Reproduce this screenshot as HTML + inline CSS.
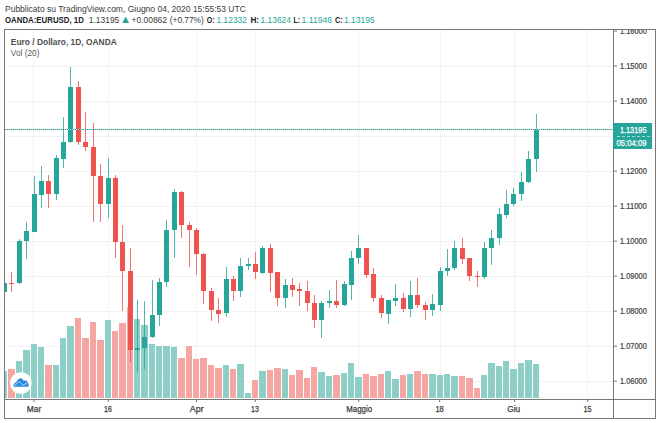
<!DOCTYPE html>
<html><head><meta charset="utf-8">
<style>
html,body{margin:0;padding:0;background:#fff;}
body{width:660px;height:423px;position:relative;overflow:hidden;font-family:"Liberation Sans",sans-serif;}
svg{position:absolute;left:0;top:0;font-family:"Liberation Sans",sans-serif;}
</style></head><body>
<svg width="660" height="423" viewBox="0 0 660 423">
<defs><clipPath id="axc"><rect x="614" y="30" width="41" height="369"/></clipPath><clipPath id="cp"><rect x="5" y="30" width="608" height="369"/></clipPath></defs>
<g clip-path="url(#cp)">
<rect x="5" y="66" width="608" height="1" fill="#f2f2f2"/>
<rect x="5" y="101" width="608" height="1" fill="#f2f2f2"/>
<rect x="5" y="136" width="608" height="1" fill="#f2f2f2"/>
<rect x="5" y="171" width="608" height="1" fill="#f2f2f2"/>
<rect x="5" y="206" width="608" height="1" fill="#f2f2f2"/>
<rect x="5" y="241" width="608" height="1" fill="#f2f2f2"/>
<rect x="5" y="276" width="608" height="1" fill="#f2f2f2"/>
<rect x="5" y="311" width="608" height="1" fill="#f2f2f2"/>
<rect x="5" y="346" width="608" height="1" fill="#f2f2f2"/>
<rect x="5" y="381" width="608" height="1" fill="#f2f2f2"/>
<rect x="33" y="30" width="1" height="369" fill="#f2f2f2"/>
<rect x="108" y="30" width="1" height="369" fill="#f2f2f2"/>
<rect x="196" y="30" width="1" height="369" fill="#f2f2f2"/>
<rect x="255" y="30" width="1" height="369" fill="#f2f2f2"/>
<rect x="358" y="30" width="1" height="369" fill="#f2f2f2"/>
<rect x="440" y="30" width="1" height="369" fill="#f2f2f2"/>
<rect x="514" y="30" width="1" height="369" fill="#f2f2f2"/>
<rect x="587" y="30" width="1" height="369" fill="#f2f2f2"/>
<rect x="1" y="371" width="6" height="27" fill="#8dcfc6"/>
<rect x="8" y="369" width="7" height="29" fill="#f6a6a2"/>
<rect x="16" y="361" width="6" height="37" fill="#8dcfc6"/>
<rect x="23" y="350" width="7" height="48" fill="#8dcfc6"/>
<rect x="31" y="344" width="6" height="54" fill="#8dcfc6"/>
<rect x="38" y="347" width="6" height="51" fill="#8dcfc6"/>
<rect x="45" y="365" width="7" height="33" fill="#f6a6a2"/>
<rect x="53" y="365" width="6" height="33" fill="#8dcfc6"/>
<rect x="60" y="338" width="6" height="60" fill="#8dcfc6"/>
<rect x="67" y="326" width="7" height="72" fill="#8dcfc6"/>
<rect x="75" y="318" width="6" height="80" fill="#f6a6a2"/>
<rect x="82" y="338" width="7" height="60" fill="#f6a6a2"/>
<rect x="90" y="322" width="6" height="76" fill="#f6a6a2"/>
<rect x="97" y="340" width="7" height="58" fill="#f6a6a2"/>
<rect x="105" y="320" width="6" height="78" fill="#8dcfc6"/>
<rect x="112" y="331" width="6" height="67" fill="#f6a6a2"/>
<rect x="119" y="323" width="7" height="75" fill="#f6a6a2"/>
<rect x="127" y="307" width="6" height="91" fill="#f6a6a2"/>
<rect x="134" y="319" width="6" height="79" fill="#8dcfc6"/>
<rect x="141" y="325" width="7" height="73" fill="#8dcfc6"/>
<rect x="149" y="344" width="6" height="54" fill="#8dcfc6"/>
<rect x="156" y="346" width="6" height="52" fill="#8dcfc6"/>
<rect x="163" y="346" width="7" height="52" fill="#8dcfc6"/>
<rect x="171" y="347" width="6" height="51" fill="#8dcfc6"/>
<rect x="178" y="358" width="7" height="40" fill="#f6a6a2"/>
<rect x="186" y="346" width="6" height="52" fill="#f6a6a2"/>
<rect x="193" y="359" width="6" height="39" fill="#f6a6a2"/>
<rect x="200" y="358" width="7" height="40" fill="#f6a6a2"/>
<rect x="208" y="365" width="6" height="33" fill="#f6a6a2"/>
<rect x="215" y="368" width="7" height="30" fill="#f6a6a2"/>
<rect x="223" y="365" width="6" height="33" fill="#8dcfc6"/>
<rect x="230" y="369" width="6" height="29" fill="#f6a6a2"/>
<rect x="237" y="364" width="7" height="34" fill="#8dcfc6"/>
<rect x="245" y="393" width="6" height="5" fill="#8dcfc6"/>
<rect x="252" y="380" width="6" height="18" fill="#f6a6a2"/>
<rect x="259" y="371" width="7" height="27" fill="#8dcfc6"/>
<rect x="267" y="370" width="6" height="28" fill="#f6a6a2"/>
<rect x="274" y="368" width="7" height="30" fill="#f6a6a2"/>
<rect x="282" y="369" width="6" height="29" fill="#8dcfc6"/>
<rect x="289" y="375" width="6" height="23" fill="#f6a6a2"/>
<rect x="296" y="370" width="7" height="28" fill="#f6a6a2"/>
<rect x="304" y="378" width="6" height="20" fill="#f6a6a2"/>
<rect x="311" y="367" width="6" height="31" fill="#f6a6a2"/>
<rect x="318" y="372" width="7" height="26" fill="#8dcfc6"/>
<rect x="326" y="376" width="6" height="22" fill="#8dcfc6"/>
<rect x="333" y="375" width="7" height="23" fill="#f6a6a2"/>
<rect x="341" y="373" width="6" height="25" fill="#8dcfc6"/>
<rect x="348" y="363" width="6" height="35" fill="#8dcfc6"/>
<rect x="355" y="377" width="7" height="21" fill="#8dcfc6"/>
<rect x="363" y="374" width="6" height="24" fill="#f6a6a2"/>
<rect x="370" y="376" width="7" height="22" fill="#f6a6a2"/>
<rect x="378" y="374" width="6" height="24" fill="#f6a6a2"/>
<rect x="385" y="371" width="6" height="27" fill="#8dcfc6"/>
<rect x="392" y="379" width="7" height="19" fill="#8dcfc6"/>
<rect x="400" y="375" width="6" height="23" fill="#f6a6a2"/>
<rect x="407" y="374" width="6" height="24" fill="#8dcfc6"/>
<rect x="414" y="371" width="7" height="27" fill="#f6a6a2"/>
<rect x="422" y="374" width="6" height="24" fill="#f6a6a2"/>
<rect x="429" y="374" width="7" height="24" fill="#8dcfc6"/>
<rect x="437" y="375" width="6" height="23" fill="#8dcfc6"/>
<rect x="444" y="374" width="6" height="24" fill="#8dcfc6"/>
<rect x="451" y="376" width="7" height="22" fill="#8dcfc6"/>
<rect x="459" y="376" width="6" height="22" fill="#f6a6a2"/>
<rect x="466" y="378" width="7" height="20" fill="#f6a6a2"/>
<rect x="474" y="388" width="6" height="10" fill="#f6a6a2"/>
<rect x="481" y="375" width="6" height="23" fill="#8dcfc6"/>
<rect x="488" y="363" width="7" height="35" fill="#8dcfc6"/>
<rect x="496" y="366" width="6" height="32" fill="#8dcfc6"/>
<rect x="503" y="361" width="6" height="37" fill="#8dcfc6"/>
<rect x="510" y="369" width="7" height="29" fill="#8dcfc6"/>
<rect x="518" y="363" width="6" height="35" fill="#8dcfc6"/>
<rect x="525" y="360" width="7" height="38" fill="#8dcfc6"/>
<rect x="533" y="364" width="6" height="34" fill="#8dcfc6"/>
<rect x="4" y="283" width="1" height="9" fill="#26a69a" fill-opacity="0.8"/>
<rect x="2" y="283" width="5" height="9" fill="#26a69a"/>
<rect x="11" y="272" width="1" height="20" fill="#ef5350" fill-opacity="0.8"/>
<rect x="9" y="283" width="5" height="1" fill="#ef5350"/>
<rect x="19" y="239" width="1" height="45" fill="#26a69a" fill-opacity="0.8"/>
<rect x="17" y="241" width="5" height="42" fill="#26a69a"/>
<rect x="26" y="222" width="1" height="37" fill="#26a69a" fill-opacity="0.8"/>
<rect x="24" y="231" width="5" height="10" fill="#26a69a"/>
<rect x="34" y="176" width="1" height="56" fill="#26a69a" fill-opacity="0.8"/>
<rect x="32" y="194" width="5" height="38" fill="#26a69a"/>
<rect x="41" y="166" width="1" height="42" fill="#26a69a" fill-opacity="0.8"/>
<rect x="39" y="181" width="5" height="14" fill="#26a69a"/>
<rect x="48" y="175" width="1" height="33" fill="#ef5350" fill-opacity="0.8"/>
<rect x="46" y="181" width="5" height="13" fill="#ef5350"/>
<rect x="56" y="155" width="1" height="45" fill="#26a69a" fill-opacity="0.8"/>
<rect x="54" y="158" width="5" height="36" fill="#26a69a"/>
<rect x="63" y="117" width="1" height="51" fill="#26a69a" fill-opacity="0.8"/>
<rect x="61" y="142" width="5" height="17" fill="#26a69a"/>
<rect x="70" y="67" width="1" height="76" fill="#26a69a" fill-opacity="0.8"/>
<rect x="68" y="87" width="5" height="55" fill="#26a69a"/>
<rect x="78" y="81" width="1" height="64" fill="#ef5350" fill-opacity="0.8"/>
<rect x="76" y="87" width="5" height="55" fill="#ef5350"/>
<rect x="85" y="112" width="1" height="39" fill="#ef5350" fill-opacity="0.8"/>
<rect x="83" y="142" width="5" height="5" fill="#ef5350"/>
<rect x="93" y="123" width="1" height="99" fill="#ef5350" fill-opacity="0.8"/>
<rect x="91" y="147" width="5" height="29" fill="#ef5350"/>
<rect x="100" y="164" width="1" height="58" fill="#ef5350" fill-opacity="0.8"/>
<rect x="98" y="176" width="5" height="28" fill="#ef5350"/>
<rect x="108" y="158" width="1" height="60" fill="#26a69a" fill-opacity="0.8"/>
<rect x="106" y="178" width="5" height="26" fill="#26a69a"/>
<rect x="115" y="175" width="1" height="83" fill="#ef5350" fill-opacity="0.8"/>
<rect x="113" y="178" width="5" height="64" fill="#ef5350"/>
<rect x="122" y="225" width="1" height="86" fill="#ef5350" fill-opacity="0.8"/>
<rect x="120" y="242" width="5" height="29" fill="#ef5350"/>
<rect x="130" y="248" width="1" height="114" fill="#ef5350" fill-opacity="0.8"/>
<rect x="128" y="271" width="5" height="79" fill="#ef5350"/>
<rect x="137" y="300" width="1" height="72" fill="#26a69a" fill-opacity="0.8"/>
<rect x="135" y="348" width="5" height="2" fill="#26a69a"/>
<rect x="144" y="301" width="1" height="68" fill="#26a69a" fill-opacity="0.8"/>
<rect x="142" y="337" width="5" height="11" fill="#26a69a"/>
<rect x="152" y="280" width="1" height="58" fill="#26a69a" fill-opacity="0.8"/>
<rect x="150" y="315" width="5" height="22" fill="#26a69a"/>
<rect x="159" y="278" width="1" height="48" fill="#26a69a" fill-opacity="0.8"/>
<rect x="157" y="282" width="5" height="33" fill="#26a69a"/>
<rect x="166" y="220" width="1" height="67" fill="#26a69a" fill-opacity="0.8"/>
<rect x="164" y="230" width="5" height="52" fill="#26a69a"/>
<rect x="174" y="189" width="1" height="69" fill="#26a69a" fill-opacity="0.8"/>
<rect x="172" y="192" width="5" height="38" fill="#26a69a"/>
<rect x="181" y="191" width="1" height="47" fill="#ef5350" fill-opacity="0.8"/>
<rect x="179" y="192" width="5" height="33" fill="#ef5350"/>
<rect x="189" y="222" width="1" height="45" fill="#ef5350" fill-opacity="0.8"/>
<rect x="187" y="225" width="5" height="5" fill="#ef5350"/>
<rect x="196" y="228" width="1" height="47" fill="#ef5350" fill-opacity="0.8"/>
<rect x="194" y="230" width="5" height="24" fill="#ef5350"/>
<rect x="203" y="253" width="1" height="51" fill="#ef5350" fill-opacity="0.8"/>
<rect x="201" y="254" width="5" height="37" fill="#ef5350"/>
<rect x="211" y="288" width="1" height="33" fill="#ef5350" fill-opacity="0.8"/>
<rect x="209" y="291" width="5" height="19" fill="#ef5350"/>
<rect x="218" y="298" width="1" height="25" fill="#ef5350" fill-opacity="0.8"/>
<rect x="216" y="310" width="5" height="4" fill="#ef5350"/>
<rect x="226" y="267" width="1" height="50" fill="#26a69a" fill-opacity="0.8"/>
<rect x="224" y="279" width="5" height="34" fill="#26a69a"/>
<rect x="233" y="276" width="1" height="25" fill="#ef5350" fill-opacity="0.8"/>
<rect x="231" y="279" width="5" height="12" fill="#ef5350"/>
<rect x="240" y="258" width="1" height="39" fill="#26a69a" fill-opacity="0.8"/>
<rect x="238" y="266" width="5" height="25" fill="#26a69a"/>
<rect x="248" y="258" width="1" height="12" fill="#26a69a" fill-opacity="0.8"/>
<rect x="246" y="264" width="5" height="2" fill="#26a69a"/>
<rect x="255" y="252" width="1" height="27" fill="#ef5350" fill-opacity="0.8"/>
<rect x="253" y="264" width="5" height="8" fill="#ef5350"/>
<rect x="262" y="246" width="1" height="28" fill="#26a69a" fill-opacity="0.8"/>
<rect x="260" y="248" width="5" height="25" fill="#26a69a"/>
<rect x="270" y="244" width="1" height="48" fill="#ef5350" fill-opacity="0.8"/>
<rect x="268" y="248" width="5" height="25" fill="#ef5350"/>
<rect x="277" y="272" width="1" height="34" fill="#ef5350" fill-opacity="0.8"/>
<rect x="275" y="272" width="5" height="26" fill="#ef5350"/>
<rect x="285" y="279" width="1" height="29" fill="#26a69a" fill-opacity="0.8"/>
<rect x="283" y="285" width="5" height="13" fill="#26a69a"/>
<rect x="292" y="278" width="1" height="19" fill="#ef5350" fill-opacity="0.8"/>
<rect x="290" y="285" width="5" height="5" fill="#ef5350"/>
<rect x="299" y="283" width="1" height="23" fill="#ef5350" fill-opacity="0.8"/>
<rect x="297" y="289" width="5" height="2" fill="#ef5350"/>
<rect x="307" y="281" width="1" height="30" fill="#ef5350" fill-opacity="0.8"/>
<rect x="305" y="291" width="5" height="12" fill="#ef5350"/>
<rect x="314" y="295" width="1" height="33" fill="#ef5350" fill-opacity="0.8"/>
<rect x="312" y="303" width="5" height="17" fill="#ef5350"/>
<rect x="321" y="301" width="1" height="37" fill="#26a69a" fill-opacity="0.8"/>
<rect x="319" y="303" width="5" height="17" fill="#26a69a"/>
<rect x="329" y="290" width="1" height="18" fill="#26a69a" fill-opacity="0.8"/>
<rect x="327" y="301" width="5" height="2" fill="#26a69a"/>
<rect x="336" y="280" width="1" height="28" fill="#ef5350" fill-opacity="0.8"/>
<rect x="334" y="301" width="5" height="4" fill="#ef5350"/>
<rect x="344" y="281" width="1" height="25" fill="#26a69a" fill-opacity="0.8"/>
<rect x="342" y="284" width="5" height="21" fill="#26a69a"/>
<rect x="351" y="251" width="1" height="49" fill="#26a69a" fill-opacity="0.8"/>
<rect x="349" y="258" width="5" height="27" fill="#26a69a"/>
<rect x="358" y="235" width="1" height="29" fill="#26a69a" fill-opacity="0.8"/>
<rect x="356" y="248" width="5" height="10" fill="#26a69a"/>
<rect x="366" y="248" width="1" height="30" fill="#ef5350" fill-opacity="0.8"/>
<rect x="364" y="248" width="5" height="27" fill="#ef5350"/>
<rect x="373" y="268" width="1" height="34" fill="#ef5350" fill-opacity="0.8"/>
<rect x="371" y="274" width="5" height="24" fill="#ef5350"/>
<rect x="381" y="295" width="1" height="23" fill="#ef5350" fill-opacity="0.8"/>
<rect x="379" y="298" width="5" height="15" fill="#ef5350"/>
<rect x="388" y="300" width="1" height="24" fill="#26a69a" fill-opacity="0.8"/>
<rect x="386" y="300" width="5" height="14" fill="#26a69a"/>
<rect x="395" y="284" width="1" height="22" fill="#26a69a" fill-opacity="0.8"/>
<rect x="393" y="298" width="5" height="3" fill="#26a69a"/>
<rect x="403" y="293" width="1" height="19" fill="#ef5350" fill-opacity="0.8"/>
<rect x="401" y="298" width="5" height="11" fill="#ef5350"/>
<rect x="410" y="281" width="1" height="36" fill="#26a69a" fill-opacity="0.8"/>
<rect x="408" y="295" width="5" height="14" fill="#26a69a"/>
<rect x="417" y="278" width="1" height="30" fill="#ef5350" fill-opacity="0.8"/>
<rect x="415" y="295" width="5" height="10" fill="#ef5350"/>
<rect x="425" y="302" width="1" height="18" fill="#ef5350" fill-opacity="0.8"/>
<rect x="423" y="305" width="5" height="5" fill="#ef5350"/>
<rect x="432" y="294" width="1" height="22" fill="#26a69a" fill-opacity="0.8"/>
<rect x="430" y="304" width="5" height="6" fill="#26a69a"/>
<rect x="440" y="267" width="1" height="44" fill="#26a69a" fill-opacity="0.8"/>
<rect x="438" y="271" width="5" height="34" fill="#26a69a"/>
<rect x="447" y="249" width="1" height="27" fill="#26a69a" fill-opacity="0.8"/>
<rect x="445" y="268" width="5" height="3" fill="#26a69a"/>
<rect x="454" y="241" width="1" height="29" fill="#26a69a" fill-opacity="0.8"/>
<rect x="452" y="248" width="5" height="20" fill="#26a69a"/>
<rect x="462" y="238" width="1" height="26" fill="#ef5350" fill-opacity="0.8"/>
<rect x="460" y="248" width="5" height="11" fill="#ef5350"/>
<rect x="469" y="258" width="1" height="23" fill="#ef5350" fill-opacity="0.8"/>
<rect x="467" y="258" width="5" height="18" fill="#ef5350"/>
<rect x="477" y="271" width="1" height="16" fill="#ef5350" fill-opacity="0.8"/>
<rect x="475" y="276" width="5" height="1" fill="#ef5350"/>
<rect x="484" y="242" width="1" height="37" fill="#26a69a" fill-opacity="0.8"/>
<rect x="482" y="248" width="5" height="29" fill="#26a69a"/>
<rect x="491" y="230" width="1" height="35" fill="#26a69a" fill-opacity="0.8"/>
<rect x="489" y="238" width="5" height="10" fill="#26a69a"/>
<rect x="499" y="208" width="1" height="37" fill="#26a69a" fill-opacity="0.8"/>
<rect x="497" y="214" width="5" height="24" fill="#26a69a"/>
<rect x="506" y="190" width="1" height="28" fill="#26a69a" fill-opacity="0.8"/>
<rect x="504" y="204" width="5" height="11" fill="#26a69a"/>
<rect x="513" y="188" width="1" height="18" fill="#26a69a" fill-opacity="0.8"/>
<rect x="511" y="194" width="5" height="10" fill="#26a69a"/>
<rect x="521" y="172" width="1" height="29" fill="#26a69a" fill-opacity="0.8"/>
<rect x="519" y="182" width="5" height="12" fill="#26a69a"/>
<rect x="528" y="151" width="1" height="32" fill="#26a69a" fill-opacity="0.8"/>
<rect x="526" y="159" width="5" height="23" fill="#26a69a"/>
<rect x="536" y="114" width="1" height="58" fill="#26a69a" fill-opacity="0.8"/>
<rect x="534" y="129" width="5" height="30" fill="#26a69a"/>
<rect x="5" y="129" width="608" height="1" fill="#a6dad3"/><line x1="5" y1="129.5" x2="613" y2="129.5" stroke="#3a988d" stroke-width="1" stroke-dasharray="1 1"/>
</g>
<rect x="4.5" y="29.5" width="651" height="389" fill="none" stroke="#787878" stroke-width="1"/>
<line x1="613.5" y1="29.5" x2="613.5" y2="418.5" stroke="#787878" stroke-width="1"/>
<line x1="4.5" y1="399.5" x2="655.5" y2="399.5" stroke="#787878" stroke-width="1"/>
<text x="5.0" y="11.8" font-size="8.4" font-weight="normal" fill="#3a3a3a" textLength="240.8" lengthAdjust="spacingAndGlyphs">Pubblicato su TradingView.com, Giugno 04, 2020 15:55:53 UTC</text>
<text x="5.0" y="22.9" font-size="8.4" font-weight="bold" fill="#222" textLength="78.8" lengthAdjust="spacingAndGlyphs">OANDA:EURUSD, 1D</text>
<text x="88.8" y="22.9" font-size="8.4" font-weight="normal" fill="#3a3a3a" textLength="30.5" lengthAdjust="spacingAndGlyphs">1.13195</text>
<path d="M122.3 22.9 L129.1 22.9 L125.7 16.6 Z" fill="#26a69a"/>
<text x="131.5" y="22.9" font-size="8.4" font-weight="normal" fill="#3a3a3a" textLength="35.5" lengthAdjust="spacingAndGlyphs">+0.00862</text>
<text x="169.8" y="22.9" font-size="8.4" font-weight="normal" fill="#3a3a3a" textLength="34.0" lengthAdjust="spacingAndGlyphs">(+0.77%)</text>
<text x="206.8" y="22.9" font-size="8.4" font-weight="bold" fill="#222" textLength="7.8" lengthAdjust="spacingAndGlyphs">O:</text>
<text x="216.5" y="22.9" font-size="8.4" font-weight="normal" fill="#26a69a" textLength="30.5" lengthAdjust="spacingAndGlyphs">1.12332</text>
<text x="250.4" y="22.9" font-size="8.4" font-weight="bold" fill="#222" textLength="8.7" lengthAdjust="spacingAndGlyphs">H:</text>
<text x="260.5" y="22.9" font-size="8.4" font-weight="normal" fill="#26a69a" textLength="30.5" lengthAdjust="spacingAndGlyphs">1.13624</text>
<text x="293.5" y="22.9" font-size="8.4" font-weight="bold" fill="#222" textLength="6.6" lengthAdjust="spacingAndGlyphs">L:</text>
<text x="301.6" y="22.9" font-size="8.4" font-weight="normal" fill="#26a69a" textLength="30.4" lengthAdjust="spacingAndGlyphs">1.11946</text>
<text x="335.0" y="22.9" font-size="8.4" font-weight="bold" fill="#222" textLength="7.8" lengthAdjust="spacingAndGlyphs">C:</text>
<text x="344.0" y="22.9" font-size="8.4" font-weight="normal" fill="#26a69a" textLength="30.6" lengthAdjust="spacingAndGlyphs">1.13195</text>
<text x="10.8" y="44.9" font-size="8.9" font-weight="bold" fill="#4f4f4f" textLength="106.0" lengthAdjust="spacingAndGlyphs">Euro / Dollaro, 1D, OANDA</text>
<text x="10.8" y="55.9" font-size="8.9" font-weight="normal" fill="#5a5a5a" textLength="28.7" lengthAdjust="spacingAndGlyphs">Vol (20)</text>
<rect x="614" y="30.50" width="3" height="1" fill="#787878"/>
<text clip-path="url(#axc)" stroke="#3c3c3c" stroke-width="0.2" x="620.0" y="34.0" font-size="8.6" font-weight="normal" fill="#3c3c3c" textLength="26.8" lengthAdjust="spacingAndGlyphs">1.16000</text>
<rect x="614" y="65.52" width="3" height="1" fill="#787878"/>
<text clip-path="url(#axc)" stroke="#3c3c3c" stroke-width="0.2" x="620.0" y="69.02000000000001" font-size="8.6" font-weight="normal" fill="#3c3c3c" textLength="26.8" lengthAdjust="spacingAndGlyphs">1.15000</text>
<rect x="614" y="100.54" width="3" height="1" fill="#787878"/>
<text clip-path="url(#axc)" stroke="#3c3c3c" stroke-width="0.2" x="620.0" y="104.04" font-size="8.6" font-weight="normal" fill="#3c3c3c" textLength="26.8" lengthAdjust="spacingAndGlyphs">1.14000</text>
<rect x="614" y="170.58" width="3" height="1" fill="#787878"/>
<text clip-path="url(#axc)" stroke="#3c3c3c" stroke-width="0.2" x="620.0" y="174.08" font-size="8.6" font-weight="normal" fill="#3c3c3c" textLength="26.8" lengthAdjust="spacingAndGlyphs">1.12000</text>
<rect x="614" y="205.60" width="3" height="1" fill="#787878"/>
<text clip-path="url(#axc)" stroke="#3c3c3c" stroke-width="0.2" x="620.0" y="209.10000000000002" font-size="8.6" font-weight="normal" fill="#3c3c3c" textLength="26.8" lengthAdjust="spacingAndGlyphs">1.11000</text>
<rect x="614" y="240.62" width="3" height="1" fill="#787878"/>
<text clip-path="url(#axc)" stroke="#3c3c3c" stroke-width="0.2" x="620.0" y="244.12" font-size="8.6" font-weight="normal" fill="#3c3c3c" textLength="26.8" lengthAdjust="spacingAndGlyphs">1.10000</text>
<rect x="614" y="275.64" width="3" height="1" fill="#787878"/>
<text clip-path="url(#axc)" stroke="#3c3c3c" stroke-width="0.2" x="620.0" y="279.14" font-size="8.6" font-weight="normal" fill="#3c3c3c" textLength="26.8" lengthAdjust="spacingAndGlyphs">1.09000</text>
<rect x="614" y="310.66" width="3" height="1" fill="#787878"/>
<text clip-path="url(#axc)" stroke="#3c3c3c" stroke-width="0.2" x="620.0" y="314.16" font-size="8.6" font-weight="normal" fill="#3c3c3c" textLength="26.8" lengthAdjust="spacingAndGlyphs">1.08000</text>
<rect x="614" y="345.68" width="3" height="1" fill="#787878"/>
<text clip-path="url(#axc)" stroke="#3c3c3c" stroke-width="0.2" x="620.0" y="349.18" font-size="8.6" font-weight="normal" fill="#3c3c3c" textLength="26.8" lengthAdjust="spacingAndGlyphs">1.07000</text>
<rect x="614" y="380.70" width="3" height="1" fill="#787878"/>
<text clip-path="url(#axc)" stroke="#3c3c3c" stroke-width="0.2" x="620.0" y="384.20000000000005" font-size="8.6" font-weight="normal" fill="#3c3c3c" textLength="26.8" lengthAdjust="spacingAndGlyphs">1.06000</text>
<rect x="33.5" y="400" width="1" height="2" fill="#787878"/>
<text stroke="#3c3c3c" stroke-width="0.25" x="26.8" y="412.0" font-size="8.6" font-weight="normal" fill="#3c3c3c" textLength="14.5" lengthAdjust="spacingAndGlyphs">Mar</text>
<rect x="107.7" y="400" width="1" height="2" fill="#787878"/>
<text stroke="#3c3c3c" stroke-width="0.25" x="104.0" y="412.0" font-size="8.6" font-weight="normal" fill="#3c3c3c" textLength="7.8" lengthAdjust="spacingAndGlyphs">16</text>
<rect x="196.0" y="400" width="1" height="2" fill="#787878"/>
<text stroke="#3c3c3c" stroke-width="0.25" x="189.8" y="412.0" font-size="8.6" font-weight="normal" fill="#3c3c3c" textLength="13.8" lengthAdjust="spacingAndGlyphs">Apr</text>
<rect x="254.8" y="400" width="1" height="2" fill="#787878"/>
<text stroke="#3c3c3c" stroke-width="0.25" x="251.1" y="412.0" font-size="8.6" font-weight="normal" fill="#3c3c3c" textLength="7.8" lengthAdjust="spacingAndGlyphs">13</text>
<rect x="358.2" y="400" width="1" height="2" fill="#787878"/>
<text stroke="#3c3c3c" stroke-width="0.25" x="346.3" y="412.0" font-size="8.6" font-weight="normal" fill="#3c3c3c" textLength="25.7" lengthAdjust="spacingAndGlyphs">Maggio</text>
<rect x="439.1" y="400" width="1" height="2" fill="#787878"/>
<text stroke="#3c3c3c" stroke-width="0.25" x="435.4" y="412.0" font-size="8.6" font-weight="normal" fill="#3c3c3c" textLength="8.3" lengthAdjust="spacingAndGlyphs">18</text>
<rect x="514.0" y="400" width="1" height="2" fill="#787878"/>
<text stroke="#3c3c3c" stroke-width="0.25" x="507.2" y="412.0" font-size="8.6" font-weight="normal" fill="#3c3c3c" textLength="12.9" lengthAdjust="spacingAndGlyphs">Giu</text>
<rect x="587.2" y="400" width="1" height="2" fill="#787878"/>
<text stroke="#3c3c3c" stroke-width="0.25" x="583.5" y="412.0" font-size="8.6" font-weight="normal" fill="#3c3c3c" textLength="8.1" lengthAdjust="spacingAndGlyphs">15</text>
<rect x="613" y="123" width="39" height="26" fill="#26a69a"/>
<line x1="617" y1="136.5" x2="652" y2="136.5" stroke="#9edbd3" stroke-width="1" stroke-dasharray="3 2"/>
<text stroke="#fff" stroke-width="0.25" x="619.9" y="132.7" font-size="8.6" font-weight="normal" fill="#fff" textLength="26.6" lengthAdjust="spacingAndGlyphs">1.13195</text>
<text stroke="#fff" stroke-width="0.25" x="616.6" y="145.8" font-size="8.6" font-weight="normal" fill="#fff" textLength="29.9" lengthAdjust="spacingAndGlyphs">05:04:09</text>
<circle cx="20.9" cy="383" r="10.8" fill="#fff"/>
<path d="M13.5 386.8 L13.5 384.6 C14 383.2 15.4 382.6 16.4 381.9 C17.4 379.6 18.9 378.2 20.5 378.2 C22 378.2 23 379.4 23.6 380.7 C25 380.2 26.6 380.6 27.6 381.8 C28.4 382.9 28.7 384.8 28.7 386.8 Z" fill="#2c8ce0"/>
<path d="M14.3 385.6 L19.3 381.7 L23 385.3 L27.6 382.4" fill="none" stroke="#a6dbf7" stroke-width="1"/>
</svg>
</body></html>
